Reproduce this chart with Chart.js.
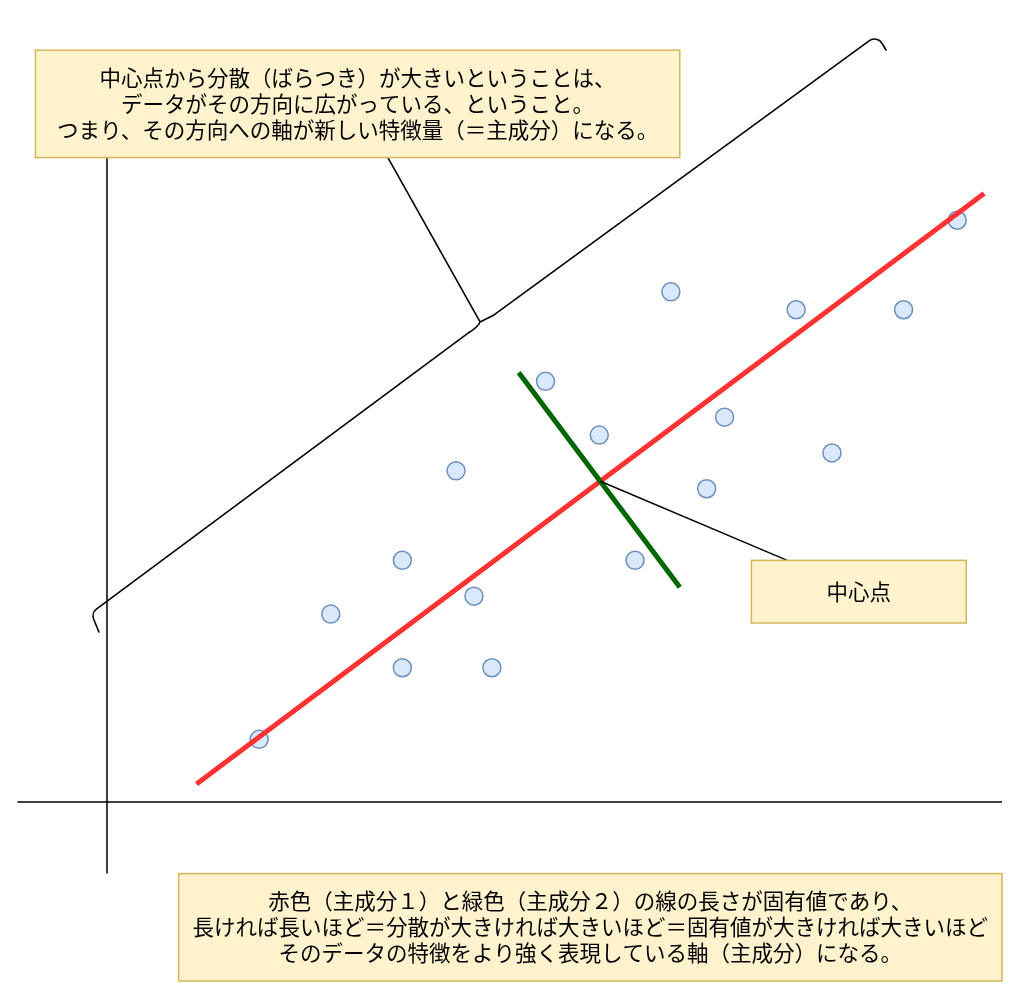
<!DOCTYPE html>
<html lang="ja">
<head>
<meta charset="utf-8">
<title>主成分分析のイメージ</title>
<script src="https://cdn.jsdelivr.net/npm/chart.js@4.4.1/dist/chart.umd.min.js"></script>
<style>
  html, body { margin: 0; padding: 0; background: #ffffff; }
  canvas { display: block; }
</style>
</head>
<body>
<canvas id="pca" width="1024" height="1001"></canvas>
<script>
// sample points (grid units, origin = where the two axes cross)
var pointX = [8.5, 12.5, 16.5, 16.5, 20.5, 21.5, 19.5, 24.5, 27.5, 29.5, 31.5, 33.5, 34.5, 38.5, 40.5, 44.5, 47.5];
var pointY = [3.5, 10.5, 13.5, 7.5, 11.5, 7.5, 18.5, 23.5, 20.5, 13.5, 28.5, 17.5, 21.5, 27.5, 19.5, 27.5, 32.5];

// principal component lines, centre point and its leader
var pc1X = [5, 49];
var pc1Y = [1, 34];
var pc2X = [23, 32];
var pc2Y = [24, 12];
var centreX = 27.56;
var centreY = 17.92;
var leaderX = [centreX, 38];
var leaderY = [centreY, 13.5];

// the two axes
var axisXLineX = [-5, 50];
var axisXLineY = [0, 0];
var axisYLineX = [0, 0];
var axisYLineY = [-4, 36];

// curly brace along the first component: [x, y]
var braceLowTip = [-0.45, 9.5];
var braceLowCorner = [-0.89, 10.56];
var braceLowEnd = [20.17, 26.2];
var braceLowCtrl = [20.73, 26.54];
var braceCusp = [20.84, 26.82];
var braceHighCtrl = [21.06, 26.93];
var braceHighStart = [21.62, 27.21];
var braceHighCorner = [43.02, 42.85];
var braceHighTip = [43.52, 42.01];
var braceArmEnd = [15.7, 35.98];

// notes
var topNoteLines = [
  '中心点から分散（ばらつき）が大きいということは、',
  'データがその方向に広がっている、ということ。',
  'つまり、その方向への軸が新しい特徴量（＝主成分）になる。'
];
var centreNoteLines = ['中心点'];
var bottomNoteLines = [
  '赤色（主成分１）と緑色（主成分２）の線の長さが固有値であり、',
  '長ければ長いほど＝分散が大きければ大きいほど＝固有値が大きければ大きいほど',
  'そのデータの特徴をより強く表現している軸（主成分）になる。'
];

function toXY(xs, ys) {
  return xs.map(function (x, i) { return { x: x, y: ys[i] }; });
}

var UNIT = 17.9;        // px per grid unit
var ORIGIN_X = 107;     // px
var ORIGIN_Y = 802;     // px
var W = 1024, H = 1001;

var notes = [
  { lines: topNoteLines, x1: -4, y1: 42, x2: 32, y2: 36 },
  { lines: centreNoteLines, x1: 36, y1: 13.5, x2: 48, y2: 10 },
  { lines: bottomNoteLines, x1: 4, y1: -4, x2: 50, y2: -10 }
];

var bracePlugin = {
  id: 'brace',
  beforeDatasetsDraw: function (chart) {
    var ctx = chart.ctx;
    var sx = chart.scales.x, sy = chart.scales.y;
    function px(p) { return [sx.getPixelForValue(p[0]), sy.getPixelForValue(p[1])]; }
    var a = px(braceLowTip), b = px(braceLowCorner), c = px(braceLowEnd),
        cc = px(braceLowCtrl), m = px(braceCusp), hc = px(braceHighCtrl),
        d = px(braceHighStart), e = px(braceHighCorner), f = px(braceHighTip),
        g = px(braceArmEnd);
    ctx.save();
    ctx.strokeStyle = '#000000';
    ctx.lineWidth = 1.6;
    ctx.lineJoin = 'round';
    ctx.lineCap = 'round';
    ctx.beginPath();
    ctx.moveTo(a[0], a[1]);
    ctx.arcTo(b[0], b[1], c[0], c[1], 9);
    ctx.lineTo(c[0], c[1]);
    ctx.quadraticCurveTo(cc[0], cc[1], m[0], m[1]);
    ctx.quadraticCurveTo(hc[0], hc[1], d[0], d[1]);
    ctx.arcTo(e[0], e[1], f[0], f[1], 9);
    ctx.lineTo(f[0], f[1]);
    ctx.moveTo(m[0], m[1]);
    ctx.lineTo(g[0], g[1]);
    ctx.stroke();
    ctx.restore();
  }
};

var notePlugin = {
  id: 'notes',
  afterDatasetsDraw: function (chart) {
    var ctx = chart.ctx;
    var sx = chart.scales.x, sy = chart.scales.y;
    ctx.save();
    notes.forEach(function (n) {
      var l = sx.getPixelForValue(n.x1), r = sx.getPixelForValue(n.x2);
      var t = sy.getPixelForValue(n.y1), b = sy.getPixelForValue(n.y2);
      ctx.fillStyle = '#fff2cc';
      ctx.fillRect(l, t, r - l, b - t);
      ctx.strokeStyle = '#d6b656';
      ctx.lineWidth = 1.5;
      ctx.strokeRect(l, t, r - l, b - t);
      ctx.fillStyle = '#000000';
      ctx.font = '21.5px "Noto Sans CJK JP", "Noto Sans", sans-serif';
      ctx.textAlign = 'center';
      ctx.textBaseline = 'middle';
      var lh = 26;
      var cx = (l + r) / 2, cy = (t + b) / 2;
      var y0 = cy - (n.lines.length - 1) * lh / 2;
      n.lines.forEach(function (s, i) {
        ctx.fillText(s, cx, y0 + i * lh);
      });
    });
    ctx.restore();
  }
};

function lineSet(xs, ys, color, width) {
  return {
    data: toXY(xs, ys),
    showLine: true,
    borderColor: color,
    borderWidth: width,
    pointRadius: 0,
    pointHoverRadius: 0,
    fill: false
  };
}

// first dataset is painted on top
var chart = new Chart(document.getElementById('pca'), {
  type: 'scatter',
  data: {
    datasets: [
      lineSet(leaderX, leaderY, '#000000', 1.5),
      lineSet(pc2X, pc2Y, '#006600', 5),
      lineSet(pc1X, pc1Y, '#ff3333', 5),
      {
        data: toXY(pointX, pointY),
        pointRadius: 9,
        pointBorderWidth: 1.5,
        pointBackgroundColor: '#dae8fc',
        pointBorderColor: '#6c8ebf'
      },
      lineSet(axisXLineX, axisXLineY, '#000000', 1.5),
      lineSet(axisYLineX, axisYLineY, '#000000', 1.5)
    ]
  },
  options: {
    responsive: false,
    animation: false,
    devicePixelRatio: 1,
    layout: { padding: 0, autoPadding: false },
    plugins: {
      legend: { display: false },
      tooltip: { enabled: false },
      title: { display: false }
    },
    scales: {
      x: {
        type: 'linear',
        display: false,
        min: -ORIGIN_X / UNIT,
        max: (W - ORIGIN_X) / UNIT
      },
      y: {
        type: 'linear',
        display: false,
        min: (ORIGIN_Y - H) / UNIT,
        max: ORIGIN_Y / UNIT
      }
    }
  },
  plugins: [bracePlugin, notePlugin]
});
</script>
</body>
</html>
